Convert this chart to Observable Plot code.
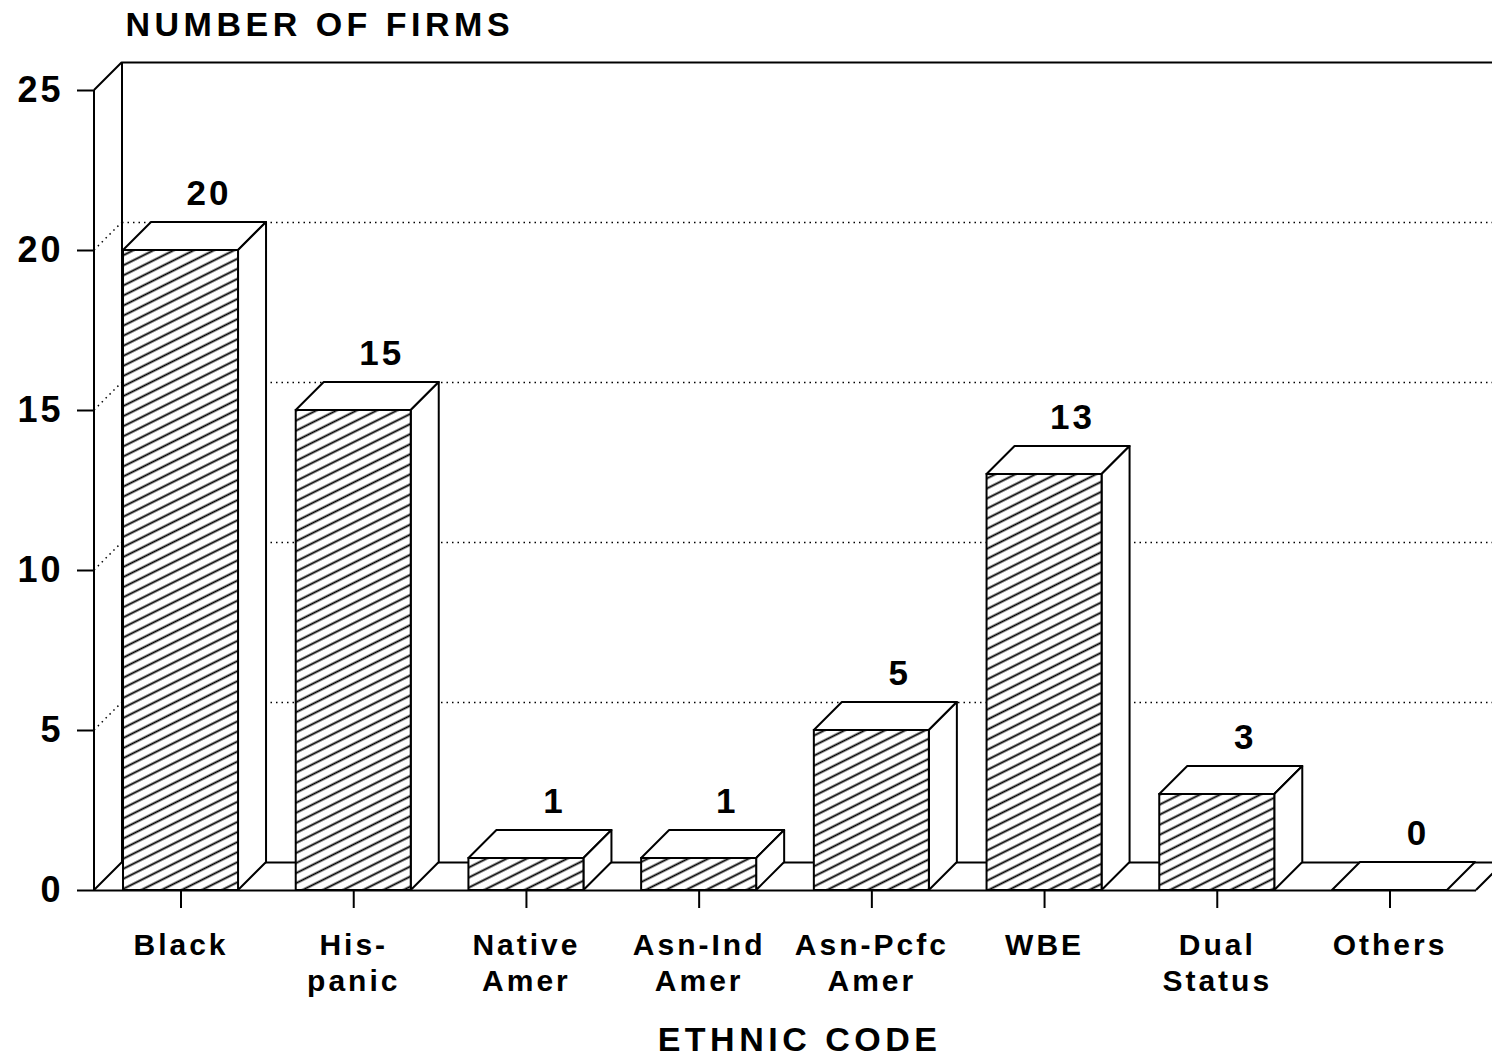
<!DOCTYPE html>
<html>
<head>
<meta charset="utf-8">
<script src="https://cdn.jsdelivr.net/npm/d3@7"></script>
<script src="https://cdn.jsdelivr.net/npm/@observablehq/plot@0.6"></script>
<style>
  html, body { margin: 0; padding: 0; background: #fff; overflow: hidden; }
  #chart svg text { letter-spacing: 3px; }
</style>
</head>
<body>
<svg width="0" height="0" style="position:absolute">
  <defs>
    <pattern id="hatch" patternUnits="userSpaceOnUse" width="30" height="9" patternTransform="rotate(-26.5)">
      <rect width="30" height="9" fill="white"></rect>
      <line x1="0" y1="4.5" x2="30" y2="4.5" stroke="black" stroke-width="1.9"></line>
    </pattern>
  </defs>
</svg>
<div id="chart"></div>
<script>
// ---- data ----
const categories = ["Black", "His-\npanic", "Native\nAmer", "Asn-Ind\nAmer", "Asn-Pcfc\nAmer", "WBE", "Dual\nStatus", "Others"];
const firms = [20, 15, 1, 1, 5, 13, 3, 0];
const yTicks = [0, 5, 10, 15, 20, 25];
const gridValues = [5, 10, 15, 20];
const yTitle = "NUMBER OF FIRMS";
const xTitle = "ETHNIC CODE";

const data = categories.map((category, i) => ({category, firms: firms[i]}));
const D = 28; // 3D depth offset

// left wall, floor edges, axis line
function walls(index, {x, y}) {
  const [x0, x1] = x.range();
  const y0 = y(0), yT = y(yTicks[yTicks.length - 1]);
  const g = d3.create("svg:g").attr("fill", "none").attr("stroke", "black");
  g.append("path")
    .attr("stroke-width", 2)
    .attr("d",
      `M${x0},${y0}V${yT}` +
      `M${x0},${yT}L${x0 + D},${yT - D}` +
      `M${x0 + D},${yT - D}V${y0 - D}` +
      `M${x0},${y0}L${x0 + D},${y0 - D}` +
      `M${x1},${y0}L${x1 + D},${y0 - D}`);
  for (const v of gridValues) {
    g.append("path")
      .attr("stroke-width", 1.5)
      .attr("stroke-dasharray", "1.5,4")
      .attr("d", `M${x0},${y(v)}L${x0 + D},${y(v) - D}`);
  }
  return g.node();
}

// top and side faces of 3D bars
function barFaces(index, {x, y}) {
  const bw = x.bandwidth();
  const g = d3.create("svg:g")
    .attr("fill", "white").attr("stroke", "black")
    .attr("stroke-width", 2).attr("stroke-linejoin", "round");
  for (const d of data) {
    const a = x(d.category), b = a + bw, y0 = y(0), y1 = y(d.firms);
    g.append("path").attr("d", `M${a},${y1}L${a + D},${y1 - D}L${b + D},${y1 - D}L${b},${y1}Z`);
    if (y0 > y1) g.append("path").attr("d", `M${b},${y1}L${b + D},${y1 - D}L${b + D},${y0 - D}L${b},${y0}Z`);
  }
  return g.node();
}

const chart = Plot.plot({
  width: 1492,
  height: 1063,
  marginLeft: 94,
  marginRight: 16,
  marginTop: 90,
  marginBottom: 173,
  style: {fontFamily: "'Liberation Sans', Arial, sans-serif", fontWeight: "bold", background: "white", color: "black", overflow: "hidden"},
  x: {domain: categories, paddingInner: 0.334, paddingOuter: 0.168, round: false},
  y: {domain: [0, 25]},
  marks: [
    Plot.ruleY(gridValues, {dx: D, dy: -D, stroke: "black", strokeWidth: 1.5, strokeDasharray: "1.5,4"}),
    Plot.ruleY([0, 25], {dx: D, dy: -D, stroke: "black", strokeWidth: 2}),
    walls,
    barFaces,
    Plot.barY(data, {x: "category", y: "firms", fill: "url(#hatch)", stroke: "black", strokeWidth: 2}),
    Plot.ruleY([0], {stroke: "black", strokeWidth: 2}),
    Plot.axisY({ticks: yTicks, tickSize: 17, tickPadding: 14, fontSize: 36, strokeWidth: 2, label: null}),
    Plot.axisX({tickSize: 18, tickPadding: 22, fontSize: 30, lineHeight: 1.17, strokeWidth: 2, label: null}),
    Plot.text(data, {x: "category", y: "firms", text: d => String(d.firms), dx: D, dy: -46, lineAnchor: "bottom", fontSize: 35}),
    Plot.text([yTitle], {frameAnchor: "top-left", dx: 31, dy: -55, textAnchor: "start", lineAnchor: "bottom", fontSize: 34}),
    Plot.text([xTitle], {frameAnchor: "bottom", dx: 14, dy: 160, lineAnchor: "bottom", fontSize: 34})
  ]
});

for (const t of chart.querySelectorAll("text")) {
  if (t.textContent === yTitle) t.style.letterSpacing = "4.5px";
  if (t.textContent === xTitle) t.style.letterSpacing = "4.5px";
}
document.getElementById("chart").append(chart);
</script>
</body>
</html>
